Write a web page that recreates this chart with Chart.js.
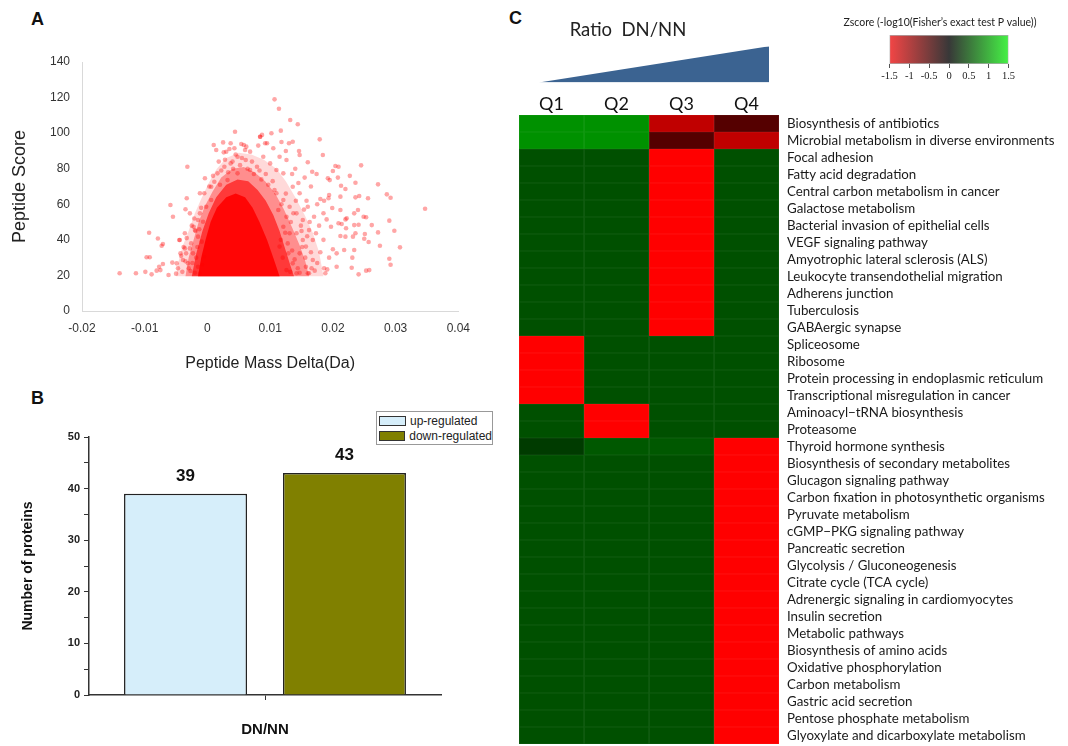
<!DOCTYPE html>
<html>
<head>
<meta charset="utf-8">
<title>Peptide scores, regulated proteins and pathway enrichment</title>
<script src="https://cdn.jsdelivr.net/npm/chart.js@4.4.0/dist/chart.umd.min.js"></script>
<style>
  html, body { margin: 0; padding: 0; background: #fff; }
  body { width: 1068px; height: 746px; overflow: hidden; position: relative; font-family: "Liberation Sans", Arial, sans-serif; }
  .box { position: absolute; }
  .panel { position: absolute; font-weight: bold; font-size: 18px; line-height: 18px; color: #111; }
  #legendB { position: absolute; left: 376px; top: 411px; width: 115px; border: 1px solid #999; padding: 1px 0; font-size: 12px; color: #222; background: #fff; }
  #legendB .item { display: flex; align-items: center; height: 15px; padding-left: 2px; white-space: nowrap; }
  #legendB .swatch { width: 27px; height: 10px; border: 1px solid #333; margin-right: 4px; box-sizing: border-box; }
</style>
</head>
<body>
<div class="panel" style="left:31px;top:10px">A</div>
<div class="panel" style="left:31px;top:389px">B</div>
<div class="panel" style="left:509px;top:9px">C</div>

<div class="box" style="left:0;top:0;width:480px;height:380px"><canvas id="scatterA"></canvas></div>
<div class="box" style="left:0;top:380px;width:520px;height:366px"><canvas id="barB"></canvas></div>
<div id="legendB"></div>
<div class="box" style="left:487px;top:0;width:282px;height:95px"><canvas id="ramp"></canvas></div>
<div class="box" style="left:839.5px;top:0;width:200px;height:90px"><canvas id="colorbar"></canvas></div>
<div class="box" style="left:505px;top:60px;width:563px;height:700px"><canvas id="heatmap"></canvas></div>

<script>
// ---- A: peptide mass delta (Da) vs peptide score ----
// scattered peptides, [mass delta, score]
const outlierPeptides = [
  [-0.0140, 21.2], [-0.0114, 21.2], [-0.0099, 22], [-0.0089, 20.6], [-0.0093, 44], [-0.0079, 40.8],
  [-0.0097, 30.2], [-0.0092, 30.2], [-0.0073, 36.7], [-0.0071, 37.7], [-0.0077, 24.9], [-0.0081, 22.7],
  [-0.0075, 23], [-0.0071, 26.4], [-0.0062, 20.2], [-0.0059, 59.6], [-0.0055, 53], [-0.0056, 27.2],
  [-0.0045, 39.9], [-0.0049, 26.8], [-0.0043, 32.4], [-0.0034, 32.4], [-0.0036, 35.2], [-0.0032, 81.1],
  [-0.0033, 63.4], [-0.0035, 57.2], [-0.0028, 54.9], [-0.0022, 47.4], [-0.0019, 45], [-0.0004, 74.6],
  [-0.0012, 66.2], [0.0010, 93.3], [0.0014, 90.5], [0.0025, 94.8], [0.0026, 89.2], [0.0030, 89.5],
  [0.0044, 100.8], [0.0035, 91.1], [0.0043, 91.5], [0.0054, 93.9], [0.0060, 90.5], [0.0062, 92.4],
  [0.0084, 98], [0.0087, 99], [0.0081, 93], [0.0092, 94.3], [-0.0040, 22], [-0.0030, 24],
  [-0.0050, 21], [-0.0035, 28], [-0.0020, 21.5],
  [0.0107, 119], [0.0114, 113.7], [0.0132, 107.4], [0.0144, 105], [0.0117, 101.4], [0.0102, 99.9],
  [0.0179, 96.5], [0.0136, 95.2], [0.0130, 94.3], [0.0184, 87.7], [0.0160, 83.6], [0.0146, 90],
  [0.0147, 87.7], [0.0245, 81.9], [0.0209, 81.1], [0.0204, 81.5], [0.0200, 78.7], [0.0174, 77],
  [0.0167, 78.3], [0.0192, 74.6], [0.0195, 73.6], [0.0208, 75], [0.0227, 76], [0.0236, 72.1],
  [0.0272, 71.2], [0.0220, 68.6], [0.0213, 70.4], [0.0286, 65.6], [0.0292, 63.7], [0.0236, 63.9],
  [0.0242, 64.7], [0.0256, 63.4], [0.0212, 64.3], [0.0194, 65.2], [0.0193, 63.4], [0.0180, 63],
  [0.0186, 62], [0.0347, 57.5], [0.0234, 54.9], [0.0240, 56.8], [0.0199, 57.9], [0.0212, 56.8],
  [0.0190, 51.5], [0.0197, 47.4], [0.0220, 51.5], [0.0222, 52.1], [0.0209, 49.3], [0.0249, 53],
  [0.0253, 52.7], [0.0262, 48.3], [0.0234, 48.3], [0.0241, 48.5], [0.0221, 46.5], [0.0214, 48.9],
  [0.0290, 50.8], [0.0298, 45.1], [0.0272, 44.2], [0.0251, 43.3], [0.0250, 40.6], [0.0257, 38.8],
  [0.0236, 43.7], [0.0232, 41.8], [0.0220, 41.8], [0.0212, 42.2], [0.0275, 36.7], [0.0307, 35.8],
  [0.0290, 29.4], [0.0292, 26], [0.0218, 34.3], [0.0231, 30], [0.0234, 34.3], [0.0206, 32.4],
  [0.0200, 34.7], [0.0194, 30], [0.0206, 24.9], [0.0230, 24.3], [0.0241, 20.6], [0.0253, 22.7],
  [0.0258, 23], [0.0191, 23.4], [0.0188, 21.2], [0.0186, 24], [0.0171, 22.7], [0.0160, 21.2],
  [0.0147, 21.5]
];
// peptides around the edge of the dense cloud
const rimPeptides = [
  [-0.0044, 39.9], [-0.0036, 43.7], [-0.0028, 35.2], [-0.0020, 45.5], [-0.0015, 41.8], [-0.0023, 32.4],
  [-0.0039, 28.7], [-0.0031, 26.8], [-0.0015, 24.9], [-0.0005, 30.5], [-0.0007, 50.2], [-0.0012, 54.9],
  [-0.0002, 58.6], [-0.0005, 66.2], [0.0006, 69.9], [0.0011, 72.7], [-0.0015, 51.2], [0.0006, 62.4],
  [0.0016, 77.4], [0.0027, 81.1], [0.0037, 83], [0.0048, 86.7], [0.0061, 84.9], [0.0068, 89.6],
  [0.0079, 81.1], [0.0089, 86.7], [0.0100, 83], [0.0110, 79.3], [0.0121, 77.4], [0.0037, 94.3],
  [0.0058, 93.3], [0.0084, 98], [0.0095, 94.3], [0.0105, 91.5], [0.0115, 86.7], [0.0126, 84.9],
  [0.0068, 79.3], [0.0032, 73.6], [0.0048, 77.4],
  [0.0110, 66.2], [0.0121, 62.4], [0.0131, 58.6], [0.0142, 54.9], [0.0152, 51.2], [0.0162, 45.5],
  [0.0168, 39.9], [0.0157, 36.2], [0.0147, 32.4], [0.0136, 26.8], [0.0126, 23], [0.0142, 21.2],
  [0.0157, 24.9], [0.0168, 28.7], [0.0131, 43.7], [0.0121, 47.4], [0.0142, 43.7], [0.0152, 39.9],
  [0.0126, 53], [0.0113, 56.8], [0.0136, 69.9], [0.0147, 66.2], [0.0160, 58.6], [0.0170, 53],
  [0.0173, 43.7], [0.0115, 36.2], [0.0129, 32.4], [0.0162, 21.2],
  [0.0155, 75], [0.0140, 80], [0.0165, 70], [0.0175, 60], [0.0185, 55], [0.0178, 48],
  [0.0185, 40], [0.0180, 33], [0.0175, 27], [0.0165, 33], [0.0150, 45], [0.0158, 62],
  [0.0145, 72], [0.0135, 77], [0.0125, 90], [0.0118, 95],
  [-0.0047, 24], [-0.0042, 31], [-0.0038, 36], [-0.0033, 41], [-0.0026, 38], [-0.0025, 48],
  [-0.0021, 52], [-0.0018, 30], [-0.0016, 36], [-0.0013, 46], [-0.0010, 58], [-0.0009, 39],
  [-0.0027, 22.5], [-0.0024, 27], [-0.0012, 21], [-0.0008, 26],
  [0.0003, 70], [0.0009, 76], [0.0020, 71], [0.0022, 79], [0.0028, 85], [0.0033, 78],
  [0.0041, 80], [0.0045, 88], [0.0052, 82], [0.0055, 86], [0.0064, 80], [0.0071, 84],
  [0.0074, 77], [0.0083, 79], [0.0086, 74], [0.0093, 77], [0.0097, 71], [0.0104, 73],
  [0.0107, 68], [0.0040, 84], [0.0018, 84],
  [0.0118, 60], [0.0124, 44], [0.0128, 38], [0.0133, 50], [0.0135, 34], [0.0139, 29],
  [0.0141, 62], [0.0144, 24], [0.0149, 48], [0.0151, 36], [0.0154, 57], [0.0156, 30],
  [0.0159, 42], [0.0163, 50], [0.0166, 24], [0.0132, 22], [0.0137, 55], [0.0120, 30],
  [0.0117, 40], [0.0125, 66]
];
// outlines of the cloud at rising density: faint fringe, outer cloud, cloud, saturated core
const fringeOutline = [
  [-0.0050, 19.5], [-0.0046, 28], [-0.0040, 36], [-0.0030, 45], [-0.0020, 55], [-0.0010, 63],
  [0.0002, 72], [0.0015, 80], [0.0030, 86], [0.0050, 89], [0.0070, 88], [0.0090, 85],
  [0.0110, 80], [0.0125, 73], [0.0140, 64], [0.0155, 54], [0.0168, 44], [0.0178, 33],
  [0.0185, 19.5], [-0.0050, 19.5]
];
const outerOutline = [
  [-0.0035, 19.5], [-0.0030, 30], [-0.0022, 40], [-0.0014, 50], [-0.0004, 59], [0.0008, 67],
  [0.0022, 75], [0.0040, 80], [0.0058, 81], [0.0075, 78], [0.0092, 73], [0.0108, 66],
  [0.0122, 57], [0.0135, 47], [0.0147, 37], [0.0156, 28], [0.0162, 19.5], [-0.0035, 19.5]
];
const cloudOutline = [
  [-0.0025, 19.5], [-0.0018, 32], [-0.0008, 45], [0.0002, 55], [0.0014, 64], [0.0030, 71],
  [0.0048, 74], [0.0065, 73], [0.0080, 68], [0.0093, 62], [0.0105, 54], [0.0115, 45],
  [0.0123, 36], [0.0131, 27], [0.0138, 19.5], [-0.0025, 19.5]
];
const coreOutline = [
  [-0.0015, 19.5], [-0.0010, 30], [-0.0003, 40], [0.0005, 50], [0.0015, 58], [0.0030, 64],
  [0.0045, 66], [0.0060, 64], [0.0072, 58], [0.0083, 50], [0.0095, 40], [0.0105, 30],
  [0.0115, 19.5], [-0.0015, 19.5]
];

// ---- B: regulated proteins DN/NN ----
const groupLabels = ['DN/NN'];
const upRegulated = [39];
const downRegulated = [43];

// ---- C: pathway enrichment by ratio quartile ----
const quarters = ['Q1', 'Q2', 'Q3', 'Q4'];
const pathways = [
  'Biosynthesis of antibiotics', 'Microbial metabolism in diverse environments', 'Focal adhesion',
  'Fatty acid degradation', 'Central carbon metabolism in cancer', 'Galactose metabolism',
  'Bacterial invasion of epithelial cells', 'VEGF signaling pathway', 'Amyotrophic lateral sclerosis (ALS)',
  'Leukocyte transendothelial migration', 'Adherens junction', 'Tuberculosis', 'GABAergic synapse',
  'Spliceosome', 'Ribosome', 'Protein processing in endoplasmic reticulum',
  'Transcriptional misregulation in cancer', 'Aminoacyl\u2212tRNA biosynthesis', 'Proteasome',
  'Thyroid hormone synthesis', 'Biosynthesis of secondary metabolites', 'Glucagon signaling pathway',
  'Carbon fixation in photosynthetic organisms', 'Pyruvate metabolism', 'cGMP\u2212PKG signaling pathway',
  'Pancreatic secretion', 'Glycolysis / Gluconeogenesis', 'Citrate cycle (TCA cycle)',
  'Adrenergic signaling in cardiomyocytes', 'Insulin secretion', 'Metabolic pathways',
  'Biosynthesis of amino acids', 'Oxidative phosphorylation', 'Carbon metabolism',
  'Gastric acid secretion', 'Pentose phosphate metabolism', 'Glyoxylate and dicarboxylate metabolism'
];
const zQ1 = [0.85, 0.85,
  0.47, 0.47, 0.47, 0.47, 0.47, 0.47, 0.47, 0.47, 0.47, 0.47, 0.47,
  -1.5, -1.5, -1.5, -1.5, 0.47, 0.47, 0.35,
  0.47, 0.47, 0.47, 0.47, 0.47, 0.47, 0.47, 0.47, 0.47, 0.47, 0.47, 0.47, 0.47, 0.47, 0.47, 0.47, 0.47];
const zQ2 = [0.85, 0.85,
  0.47, 0.47, 0.47, 0.47, 0.47, 0.47, 0.47, 0.47, 0.47, 0.47, 0.47,
  0.47, 0.47, 0.47, 0.47, -1.5, -1.5, 0.52,
  0.47, 0.47, 0.47, 0.47, 0.47, 0.47, 0.47, 0.47, 0.47, 0.47, 0.47, 0.47, 0.47, 0.47, 0.47, 0.47, 0.47];
const zQ3 = [-1.13, -0.5,
  -1.5, -1.5, -1.5, -1.5, -1.5, -1.5, -1.5, -1.5, -1.5, -1.5, -1.5,
  0.47, 0.47, 0.47, 0.47, 0.47, 0.47, 0.52,
  0.47, 0.47, 0.47, 0.47, 0.47, 0.47, 0.47, 0.47, 0.47, 0.47, 0.47, 0.47, 0.47, 0.47, 0.47, 0.47, 0.47];
const zQ4 = [-0.5, -1.13,
  0.47, 0.47, 0.47, 0.47, 0.47, 0.47, 0.47, 0.47, 0.47, 0.47, 0.47,
  0.47, 0.47, 0.47, 0.47, 0.47, 0.47, -1.5,
  -1.5, -1.5, -1.5, -1.5, -1.5, -1.5, -1.5, -1.5, -1.5, -1.5, -1.5, -1.5, -1.5, -1.5, -1.5, -1.5, -1.5];
const zRange = [-1.5, 1.5];
// the "Ratio DN/NN" wedge rises from Q1 to Q4
const rampX = [0, 1];
const rampY = [0, 1];

Chart.defaults.font.family = '"Liberation Sans", Arial, sans-serif';
Chart.defaults.color = '#222';
Chart.defaults.animation = false;

const toPoints = (pairs) => pairs.map(p => ({ x: p[0], y: p[1] }));
const area = (label, pairs, alpha) => ({
  label, data: toPoints(pairs), showLine: true, fill: 'shape', tension: 0,
  pointRadius: 0, borderWidth: 0, backgroundColor: 'rgba(255,0,0,' + alpha + ')'
});

// A
new Chart(document.getElementById('scatterA'), {
  type: 'scatter',
  data: {
    datasets: [
      { label: 'peptides', data: toPoints(outlierPeptides.concat(rimPeptides)),
        pointRadius: 2.3, pointBorderWidth: 0, backgroundColor: 'rgba(255,0,0,0.35)' },
      area('core', coreOutline, 0.9),
      area('cloud', cloudOutline, 0.6),
      area('outer', outerOutline, 0.35),
      area('fringe', fringeOutline, 0.15)
    ]
  },
  options: {
    responsive: true,
    maintainAspectRatio: false,
    layout: { padding: { top: 62, right: 14, left: 0, bottom: 0 } },
    plugins: { legend: { display: false }, tooltip: { enabled: false } },
    scales: {
      x: {
        type: 'linear', min: -0.02, max: 0.04,
        ticks: { stepSize: 0.01, padding: 10, color: '#333', font: { size: 12 } },
        grid: { drawOnChartArea: false, drawTicks: false },
        border: { color: '#d9d9d9' },
        title: { display: true, text: 'Peptide Mass Delta(Da)', color: '#222', font: { size: 16 }, padding: { top: 0, bottom: 7 } },
        afterFit: (s) => { s.height = 69; }
      },
      y: {
        min: 0, max: 140,
        ticks: { stepSize: 20, padding: 12, color: '#333', font: { size: 12 } },
        grid: { drawOnChartArea: false, drawTicks: false },
        border: { color: '#d9d9d9' },
        title: { display: true, text: 'Peptide Score', color: '#222', font: { size: 18 }, padding: { top: 9, bottom: 0 } },
        afterFit: (s) => { s.width = 82; }
      }
    }
  }
});

// B
const barValueLabels = {
  id: 'barValueLabels',
  afterDatasetsDraw(chart) {
    const ctx = chart.ctx;
    ctx.save();
    ctx.font = 'bold 17px "Liberation Sans", Arial, sans-serif';
    ctx.fillStyle = '#111';
    ctx.textAlign = 'center';
    ctx.textBaseline = 'bottom';
    chart.data.datasets.forEach((ds, i) => {
      chart.getDatasetMeta(i).data.forEach((bar, j) => {
        ctx.fillText(ds.data[j], bar.x, bar.y - 9);
      });
    });
    ctx.restore();
  }
};

const barChart = new Chart(document.getElementById('barB'), {
  type: 'bar',
  data: {
    labels: groupLabels,
    datasets: [
      { label: 'up-regulated', data: upRegulated, backgroundColor: '#d6eefa', borderColor: '#222', borderWidth: 1.5 },
      { label: 'down-regulated', data: downRegulated, backgroundColor: '#808000', borderColor: '#222', borderWidth: 1.5 }
    ]
  },
  options: {
    responsive: true,
    maintainAspectRatio: false,
    categoryPercentage: 0.903,
    barPercentage: 0.774,
    layout: { padding: { top: 57, right: 79, left: 0, bottom: 0 } },
    plugins: { legend: { display: false }, tooltip: { enabled: false } },
    scales: {
      x: {
        ticks: { display: false },
        grid: { offset: false, drawOnChartArea: false, tickLength: 5, tickColor: '#333' },
        border: { color: '#333', width: 1.5 },
        title: { display: true, text: 'DN/NN', color: '#111', font: { size: 15, weight: 'bold' }, padding: { top: 0, bottom: 7 } },
        afterFit: (s) => { s.height = 51; }
      },
      y: {
        min: 0, max: 50,
        ticks: { stepSize: 5, padding: 4, color: '#222', font: { size: 11, weight: 'bold' },
                 callback: (v) => (v % 10 === 0 ? v : '') },
        grid: { drawOnChartArea: false, tickLength: 5, tickColor: '#333' },
        border: { color: '#333', width: 1.5 },
        title: { display: true, text: 'Number of proteins', color: '#111', font: { size: 14, weight: 'bold' }, padding: { top: 20, bottom: 0 } },
        afterFit: (s) => { s.width = 89; }
      }
    }
  },
  plugins: [barValueLabels]
});

// legend box for B, from the chart's own legend items
const legendB = document.getElementById('legendB');
barChart.options.plugins.legend.labels.generateLabels(barChart).forEach((item) => {
  const row = document.createElement('div');
  row.className = 'item';
  const sw = document.createElement('span');
  sw.className = 'swatch';
  sw.style.background = item.fillStyle;
  row.appendChild(sw);
  row.appendChild(document.createTextNode(item.text));
  legendB.appendChild(row);
});

// C: wedge
new Chart(document.getElementById('ramp'), {
  type: 'scatter',
  data: {
    datasets: [{
      label: 'Ratio DN/NN',
      data: rampX.map((x, i) => ({ x, y: rampY[i] })),
      showLine: true, fill: 'origin', pointRadius: 0, borderWidth: 0,
      backgroundColor: '#3b6391'
    }]
  },
  options: {
    responsive: true,
    maintainAspectRatio: false,
    layout: { padding: { top: 0, right: 0, left: 0, bottom: 12.6 } },
    plugins: {
      legend: { display: false }, tooltip: { enabled: false },
      title: { display: true, text: 'Ratio  DN/NN', color: '#222',
               font: { family: 'Lato', size: 18.5, weight: 'normal' }, padding: { top: 19, bottom: 5 } }
    },
    scales: {
      x: { type: 'linear', min: 0, max: 1, display: false },
      y: { min: 0, max: 1, ticks: { display: false }, grid: { display: false }, border: { display: false },
           afterFit: (s) => { s.width = 52; } }
    }
  }
});

// C: colour key
function zRgb(z) {
  const t = Math.min(Math.abs(z) / zRange[1], 1);
  const c = 255 * t;
  return z < 0 ? [c, 0, 0] : [0, c, 0];
}
function zColor(z, lift) {
  const k = lift || 0;
  const [r, g, b] = zRgb(z).map(v => Math.round(v + (255 - v) * k));
  return 'rgb(' + r + ',' + g + ',' + b + ')';
}

new Chart(document.getElementById('colorbar'), {
  type: 'bar',
  data: {
    labels: ['Zscore'],
    datasets: [{
      label: 'Zscore',
      data: [zRange],
      backgroundColor: (c) => {
        const chart = c.chart;
        if (!chart.chartArea) return 'transparent';
        const xs = chart.scales.x;
        const g = chart.ctx.createLinearGradient(xs.getPixelForValue(zRange[0]), 0, xs.getPixelForValue(zRange[1]), 0);
        g.addColorStop(0, '#f34545');
        g.addColorStop(0.5, '#383838');
        g.addColorStop(1, '#45f145');
        return g;
      },
      borderColor: '#aaa', borderWidth: 1, borderSkipped: false,
      barPercentage: 1, categoryPercentage: 1
    }]
  },
  options: {
    indexAxis: 'y',
    responsive: true,
    maintainAspectRatio: false,
    layout: { padding: 0 },
    plugins: {
      legend: { display: false }, tooltip: { enabled: false },
      title: { display: true, text: 'Zscore (-log10(Fisher\u2019s exact test P value))', color: '#222',
               font: { family: 'Lato', size: 10.5, weight: 'normal' }, padding: { top: 16, bottom: 6.4 } }
    },
    scales: {
      x: {
        min: zRange[0], max: zRange[1],
        ticks: { stepSize: 0.5, padding: 2, autoSkip: false, minRotation: 0, maxRotation: 0,
                 color: '#222', font: { family: '"Liberation Serif", serif', size: 10.5 },
                 callback: (v) => String(Math.round(v * 10) / 10) },
        grid: { drawOnChartArea: false, tickLength: 4, tickColor: '#555' },
        border: { display: false },
        afterFit: (s) => { s.height = 26; }
      },
      y: { ticks: { display: false }, grid: { display: false }, border: { display: false },
           afterFit: (s) => { s.width = 49.5; } },
      yRight: { type: 'linear', position: 'right', ticks: { display: false }, grid: { display: false },
                border: { display: false }, afterFit: (s) => { s.width = 31.5; } }
    }
  }
});

// C: heatmap, one floating bar per cell
const zColumns = [zQ1, zQ2, zQ3, zQ4];
new Chart(document.getElementById('heatmap'), {
  type: 'bar',
  data: {
    labels: pathways,
    datasets: zColumns.map((z, i) => ({
      label: quarters[i],
      data: z.map(() => [i, i + 1]),
      backgroundColor: z.map(v => zColor(v)),
      borderColor: z.map(v => zColor(v, 0.13)),
      borderWidth: 0.6,
      borderSkipped: false,
      grouped: false,
      barPercentage: 1,
      categoryPercentage: 1
    }))
  },
  options: {
    indexAxis: 'y',
    responsive: true,
    maintainAspectRatio: false,
    layout: { padding: { top: 0, right: 0, left: 14, bottom: 11.5 } },
    plugins: { legend: { display: false }, tooltip: { enabled: false } },
    scales: {
      x: { type: 'linear', min: 0, max: quarters.length, display: false },
      x2: {
        type: 'category', labels: quarters, position: 'top', offset: true,
        ticks: { padding: 0, color: '#111', font: { family: 'Lato', size: 18 } },
        grid: { display: false, drawTicks: false }, border: { display: false },
        afterFit: (s) => { s.height = 55; }
      },
      y: {
        position: 'right',
        ticks: { autoSkip: false, padding: 8, color: '#1a1a1a', font: { family: 'Lato', size: 13.3 } },
        grid: { display: false, drawTicks: false }, border: { display: false },
        afterFit: (s) => { s.width = 289; }
      }
    }
  }
});
</script>
</body>
</html>
